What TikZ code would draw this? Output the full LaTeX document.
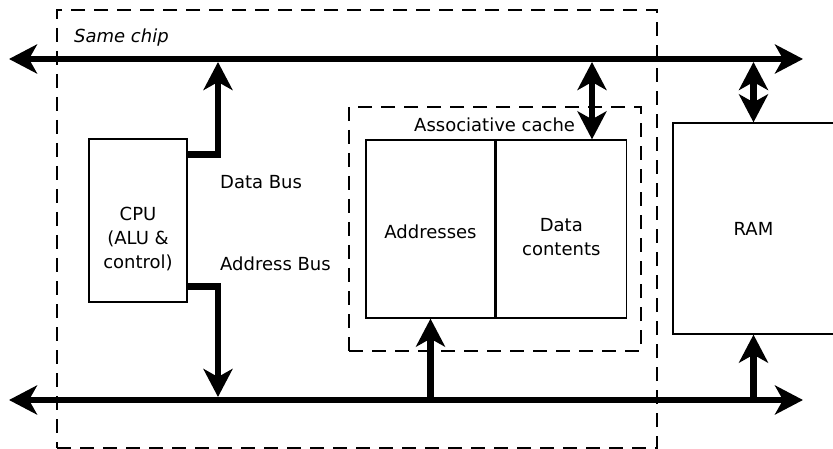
\documentclass[tikz,border=0pt]{standalone}
\usepackage{fontspec}
\setmainfont{DejaVu Sans}
\usepackage{tikz}
\usetikzlibrary{positioning, arrows.meta}
\tikzstyle{block} = [rectangle, draw=black, line width=1.3pt, inner sep=0pt, text centered, align=center]
\tikzstyle{region} = [rectangle, draw=black, line width=1.3pt, dash pattern=on 14pt off 9pt]
\tikzstyle{tag} = [inner sep=0pt, anchor=base west]
\tikzstyle{bus} = [line width=6.5pt, -{Stealth[length=28pt, width=29pt, inset=8pt]}]
\tikzstyle{bibus} = [line width=6.5pt, {Stealth[length=28pt, width=29pt, inset=8pt]}-{Stealth[length=28pt, width=29pt, inset=8pt]}]

\begin{document}
\begin{tikzpicture}[x=1pt, y=-1pt, font=\fontsize{18}{24}\selectfont]
\useasboundingbox (0,0) rectangle (833,449);

% dashed regions
\node (chip) [region, minimum width=600pt, minimum height=438pt] at (357,229) {};
\node (cache) [region, minimum width=292pt, minimum height=244pt] at (495,229) {};
\node [tag] at (74,42.5) {\itshape Same chip};
\node [tag] at (414,132) {Associative cache};

% boxes
\node (cpu) [block, minimum width=98pt, minimum height=163pt] at (138,220.5) {};
\node (cputext) [align=center, inner sep=0pt] at ([yshift=-18.5pt]cpu.center) {CPU\\(ALU \&\\control)};
\node (addr) [block, minimum width=129pt, minimum height=178pt] at (430.5,229) {};
\node (addrtext) [inner sep=0pt] at ([yshift=-2.5pt]addr.center) {Addresses};
\node (data) [block, minimum width=130pt, minimum height=178pt, right=0pt of addr] {};
\node (datatext) [align=center, inner sep=0pt] at ([yshift=-8pt]data.center) {Data\\contents};
\node (ram) [block, minimum width=161pt, minimum height=211pt] at (753.5,228.5) {RAM};

\node [tag] at (220,189) {Data Bus};
\node [tag] at (220,270) {Address Bus};

% buses
\coordinate (topL) at (9,59);
\coordinate (topR) at (803,59);
\coordinate (botL) at (9,400);
\coordinate (botR) at (803,400);
\draw [bibus] (topL) -- (topR);
\draw [bibus] (botL) -- (botR);

\coordinate (dbus) at (218,62);
\coordinate (abus) at (218,397);
\draw [bus] ([yshift=-16pt]cpu.north east) -| (dbus);
\draw [bus] ([yshift=16pt]cpu.south east) -| (abus);

\coordinate (ctap) at (592,62);
\coordinate (rtap) at (ram.north |- ctap);
\draw [bibus] (ctap) -- (ctap |- data.north);
\draw [bibus] (rtap) -- (ram.north);

\draw [bus] (addr.south |- botL) -- (addr.south);
\draw [bus] (ram.south |- botL) -- (ram.south);

\end{tikzpicture}
\end{document}
